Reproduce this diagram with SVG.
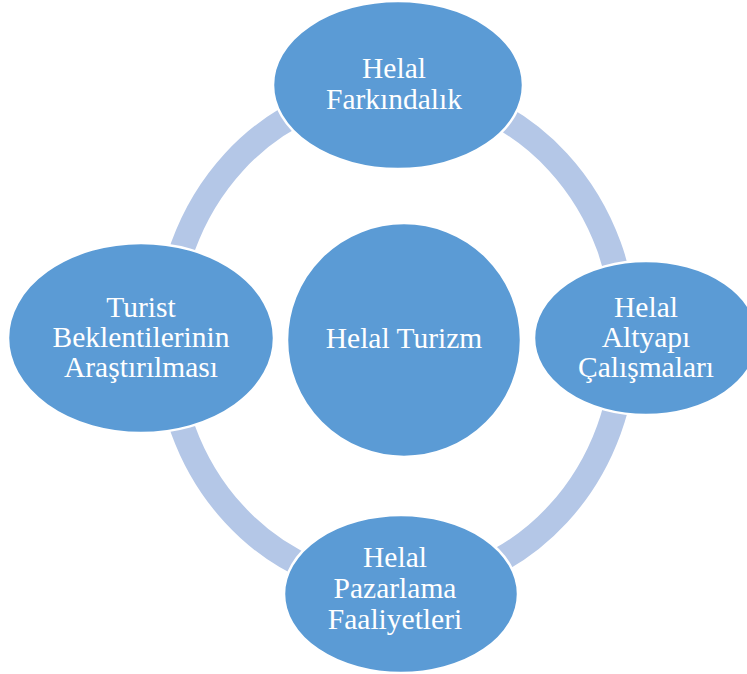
<svg xmlns="http://www.w3.org/2000/svg" width="747" height="674" viewBox="0 0 747 674">
<style>
.n{fill:#5b9bd5;stroke:#ffffff;stroke-width:2.5}
.t{font-size:29.5px;fill:#ffffff;text-anchor:middle}
</style>
<rect width="747" height="674" fill="#ffffff"/>
<g id="connectors">
<ellipse cx="396" cy="338" rx="229" ry="249" fill="none" stroke="#b4c7e7" stroke-width="25"/>
</g>
<g font-family="'Liberation Serif', 'DejaVu Serif', serif">
<g id="center">
<circle class="n" cx="404" cy="340" r="117"/>
<text class="t" x="404" y="348">Helal Turizm</text>
</g>
<g id="top">
<ellipse class="n" cx="398" cy="85" rx="125" ry="84"/>
<text class="t" x="394" y="78">Helal</text>
<text class="t" x="394" y="109">Farkındalık</text>
</g>
<g id="right">
<ellipse class="n" cx="646" cy="338" rx="112" ry="77"/>
<text class="t" x="646" y="317">Helal</text>
<text class="t" x="646" y="347">Altyapı</text>
<text class="t" x="646" y="377">Çalışmaları</text>
</g>
<g id="bottom">
<ellipse class="n" cx="401" cy="594" rx="117" ry="79"/>
<text class="t" x="395" y="567">Helal</text>
<text class="t" x="395" y="598">Pazarlama</text>
<text class="t" x="395" y="629">Faaliyetleri</text>
</g>
<g id="left">
<ellipse class="n" cx="141" cy="338" rx="133" ry="95"/>
<text class="t" x="141" y="317">Turist</text>
<text class="t" x="141" y="347">Beklentilerinin</text>
<text class="t" x="141" y="377">Araştırılması</text>
</g>
</g>
</svg>
